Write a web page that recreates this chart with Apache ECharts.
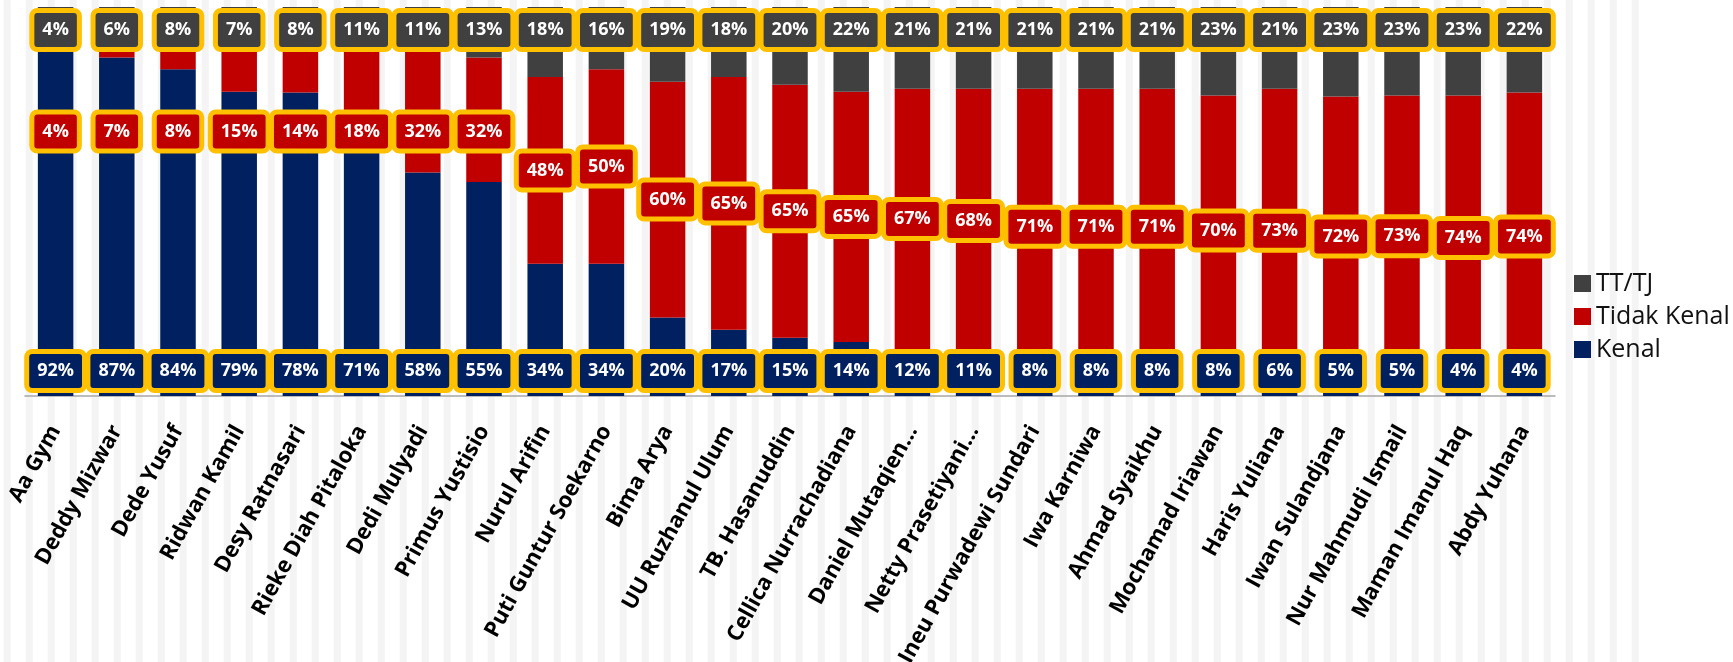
<!DOCTYPE html>
<html>
<head>
<meta charset="utf-8">
<script src="https://cdn.jsdelivr.net/npm/echarts@6/dist/echarts.min.js"></script>
<style>
  html, body { margin: 0; padding: 0; background: #fff; }
  #wrap { position: relative; width: 1733px; height: 662px; overflow: hidden; }
  #stripes {
    position: absolute; left: 0; top: 0; width: 1641px; height: 662px;
    background-image: linear-gradient(to right, #f4f4f4 0, #f4f4f4 7.5px, transparent 7.5px);
    background-size: 22px 100%;
    background-position: 3.7px 0;
  }
  #chart { position: absolute; left: 0; top: 0; width: 1733px; height: 662px; }
</style>
</head>
<body>
<div id="wrap">
  <div id="stripes"></div>
  <div id="chart"></div>
</div>
<script>
const names = [
  'Aa Gym', 'Deddy Mizwar', 'Dede Yusuf', 'Ridwan Kamil', 'Desy Ratnasari',
  'Rieke Diah Pitaloka', 'Dedi Mulyadi', 'Primus Yustisio', 'Nurul Arifin',
  'Puti Guntur Soekarno', 'Bima Arya', 'UU Ruzhanul Ulum', 'TB. Hasanuddin',
  'Cellica Nurrachadiana', 'Daniel Mutaqien…', 'Netty Prasetiyani…',
  'Ineu Purwadewi Sundari', 'Iwa Karniwa', 'Ahmad Syaikhu', 'Mochamad Iriawan',
  'Haris Yuliana', 'Iwan Sulandjana', 'Nur Mahmudi Ismail', 'Maman Imanul Haq',
  'Abdy Yuhana'
];
const kenal = [92, 87, 84, 79, 78, 71, 58, 55, 34, 34, 20, 17, 15, 14, 12, 11, 8, 8, 8, 8, 6, 5, 5, 4, 4];
const tidakKenal = [4, 7, 8, 15, 14, 18, 32, 32, 48, 50, 60, 65, 65, 65, 67, 68, 71, 71, 71, 70, 73, 72, 73, 74, 74];
const ttTj = [4, 6, 8, 7, 8, 11, 11, 13, 18, 16, 19, 18, 20, 22, 21, 21, 21, 21, 21, 23, 21, 23, 23, 23, 22];

// 100% stacked: share of each row total
const totals = names.map((_, i) => kenal[i] + tidakKenal[i] + ttTj[i]);
const share = arr => arr.map((v, i) => v / totals[i] * 100);
const kenalShare = share(kenal);
const tidakShare = share(tidakKenal);
const ttShare = share(ttTj);
// red labels sit mid-segment, but no higher than ~68%
const tidakLabelPos = names.map((_, i) => [i, Math.min(kenalShare[i] + tidakShare[i] / 2, 68)]);

const FONT = 'Open Sans';
const boxLabel = (bg, src) => ({
  show: true,
  formatter: p => src[p.dataIndex] + '%',
  color: '#fff',
  fontFamily: FONT,
  fontWeight: 'bold',
  fontSize: 18,
  lineHeight: 20,
  backgroundColor: bg,
  borderColor: '#FFC000',
  borderWidth: 5,
  borderRadius: 3,
  padding: [7, 8]
});

const chart = echarts.init(document.getElementById('chart'));
chart.setOption({
  animation: false,
  backgroundColor: 'transparent',
  grid: { left: 25, right: 178, top: 7, bottom: 266, outerBoundsMode: 'none', containLabel: false },
  legend: {
    orient: 'vertical',
    left: 1569,
    top: 266,
    itemWidth: 17,
    itemHeight: 17,
    itemGap: 8,
    icon: 'rect',
    textStyle: { fontFamily: FONT, fontSize: 25, color: '#111' },
    data: ['TT/TJ', 'Tidak Kenal', 'Kenal']
  },
  xAxis: {
    type: 'category',
    data: names,
    axisLine: { lineStyle: { color: '#a6a6a6', width: 1.5 } },
    axisTick: { length: 7, lineStyle: { color: '#a6a6a6', width: 1.5 } },
    axisLabel: {
      interval: 0,
      rotate: 61,
      margin: 31,
      color: '#000',
      fontFamily: FONT,
      fontWeight: 'bold',
      fontSize: 22
    }
  },
  yAxis: { type: 'value', min: 0, max: 100, show: false },
  series: [
    {
      name: 'Kenal', type: 'bar', stack: 'total', barWidth: '58%',
      itemStyle: { color: '#002060' },
      label: Object.assign(boxLabel('#002060', kenal), { position: 'insideBottom', distance: 8 }),
      data: kenalShare
    },
    {
      name: 'Tidak Kenal', type: 'bar', stack: 'total',
      itemStyle: { color: '#C00000' },
      data: tidakShare
    },
    {
      name: 'TT/TJ', type: 'bar', stack: 'total',
      itemStyle: { color: '#404040' },
      label: Object.assign(boxLabel('#404040', ttTj), { position: 'insideTop', distance: 6 }),
      data: ttShare
    },
    {
      name: 'tidakLabels', type: 'scatter', silent: true,
      symbolSize: 2, itemStyle: { color: 'rgba(0,0,0,0)', opacity: 1 },
      label: Object.assign(boxLabel('#C00000', tidakKenal), { position: 'inside' }),
      data: tidakLabelPos,
      z: 5
    }
  ]
});
</script>
</body>
</html>
